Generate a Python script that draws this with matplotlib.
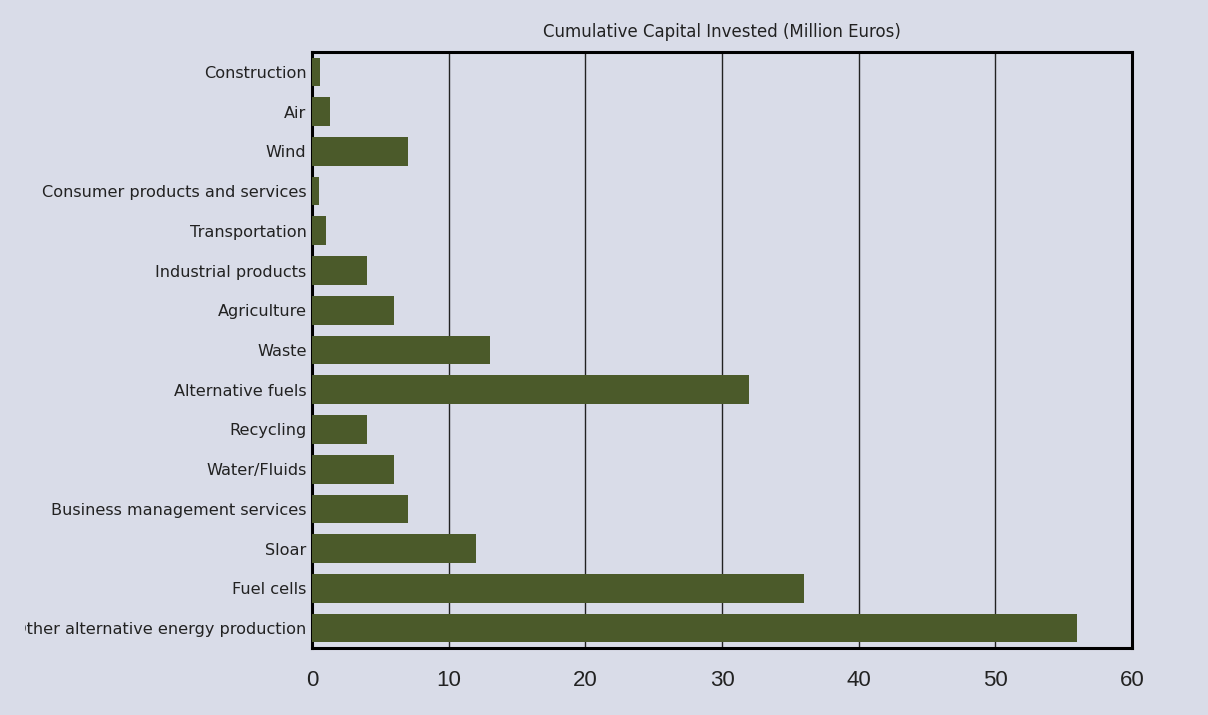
import numpy as np
import matplotlib
matplotlib.use("Agg")
import matplotlib.pyplot as plt
from matplotlib.transforms import Bbox, TransformedBbox

# datos (de arriba hacia abajo)
Sectores = ["Construction", "Air", "Wind", "Consumer products and services",
            "Transportation", "Industrial products", "Agriculture", "Waste",
            "Alternative fuels", "Recycling", "Water/Fluids",
            "Business management services", "Sloar", "Fuel cells",
            "Other alternative energy production"]
Capital = [0.6, 1.3, 7.0, 0.5, 1.0, 4.0, 6.0, 13.0, 32.0, 4.0, 6.0, 7.0, 12.0, 36.0, 56.0]
Marcas = [0, 10, 20, 30, 40, 50, 60]

Fondo = "#d9dce8"
Verde = "#4b5a2a"


def Graficar():
    Fig = plt.figure(figsize=(12.08, 7.15), dpi=100, facecolor=Fondo)
    Ax = Fig.add_axes([0.2583, 0.0937, 0.6788, 0.8336], facecolor=Fondo)

    Pos = np.arange(len(Sectores))
    Ax.barh(Pos, Capital, height=0.72, color=Verde, zorder=3)

    Ax.set_ylim(len(Sectores) - 0.5, -0.5)
    Ax.set_xlim(0, 60)
    Ax.set_yticks(Pos)
    Ax.set_yticklabels(Sectores, fontsize=11.6, color="#222222",
                       family=["DejaVu Sans"])
    Ax.set_xticks(Marcas)
    Ax.set_xticklabels([str(m) for m in Marcas], fontsize=16, color="#222222",
                       family=["Liberation Sans"])
    Ax.tick_params(axis="both", length=0)
    Ax.tick_params(axis="x", pad=16)
    Ax.tick_params(axis="y", pad=4)

    # la etiqueta mas larga aparece recortada en el original
    Caja = TransformedBbox(Bbox([[24.8 / 1208, 0], [1, 1]]), Fig.transFigure)
    for Eti in Ax.get_yticklabels():
        Eti.set_clip_box(Caja)
        Eti.set_clip_on(True)

    Ax.grid(axis="x", color="#222222", linewidth=1.0, zorder=1)
    Ax.set_axisbelow(True)
    for Lado in Ax.spines.values():
        Lado.set_linewidth(2.2)
        Lado.set_color("black")

    Ax.set_title("Cumulative Capital Invested (Million Euros)", fontsize=12,
                 color="#222222", pad=11, family=["DejaVu Sans"])

    Fig.savefig("out.png", dpi=100, facecolor=Fondo)


def main():
    plt.rcParams['font.family'] = ['Liberation Sans', 'DejaVu Sans']
    Graficar()


if __name__ == "__main__":
    main()
